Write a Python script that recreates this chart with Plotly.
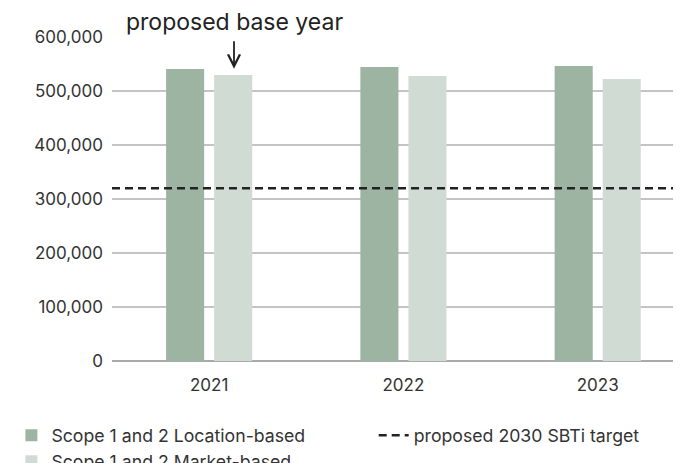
import plotly.graph_objects as go

years = ["2021", "2022", "2023"]
location_based = [540700, 544400, 546300]
market_based = [529600, 527800, 522200]
sbti_target = 320000
tick_vals = [0, 100000, 200000, 300000, 400000, 500000, 600000]
tick_text = ["0", "100,000", "200,000", "300,000", "400,000", "500,000", "600,000"]

FONT = "Inter"
xpos = list(range(len(years)))

fig = go.Figure()
fig.add_trace(go.Bar(
    x=xpos, y=location_based, name="Scope 1 and 2 Location-based",
    marker=dict(color="#9db4a3", line=dict(width=0)),
    width=0.196, offset=-0.2216, legend="legend",
))
fig.add_trace(go.Bar(
    x=xpos, y=market_based, name="Scope 1 and 2 Market-based",
    marker=dict(color="#d0dcd3", line=dict(width=0)),
    width=0.196, offset=0.0258, legend="legend",
))
fig.add_trace(go.Scatter(
    x=[-0.5, 2.5], y=[sbti_target, sbti_target], mode="lines",
    name="proposed 2030 SBTi target",
    line=dict(color="#222222", width=2.5, dash="8px,5px"), legend="legend2",
))

fig.add_annotation(
    x=0.128, y=541000, xref="x", yref="y", text="",
    showarrow=True, arrowhead=5, arrowsize=1.3, arrowwidth=1.8, arrowcolor="#222222",
    ax=0, ay=-29,
)
fig.add_annotation(
    x=0.128, y=1, xref="x", yref="paper", yanchor="bottom", yshift=-1,
    text="proposed base year", showarrow=False,
    font=dict(family=FONT, size=23, color="#222222"),
)

legend_font = dict(family=FONT, size=17.7, color="#333333")
fig.update_layout(
    width=681, height=463,
    margin=dict(l=104, r=0, t=29, b=110, autoexpand=False),
    plot_bgcolor="white", paper_bgcolor="white",
    font=dict(family=FONT, size=17, color="#333333"),
    barmode="overlay",
    showlegend=True,
    legend=dict(
        orientation="v", xref="container", yref="container",
        x=0.005, y=0.116, xanchor="left", yanchor="top",
        font=legend_font, tracegroupgap=0, traceorder="normal",
    ),
    legend2=dict(
        orientation="v", xref="container", yref="container",
        x=0.537, y=0.116, xanchor="left", yanchor="top",
        font=legend_font,
    ),
    xaxis=dict(
        range=[-0.5, 2.47], tickvals=xpos, ticktext=years,
        showgrid=False, zeroline=False, showline=False, ticks="",
        ticklabelstandoff=12, tickangle=0, automargin=False,
    ),
    yaxis=dict(
        range=[0, 600000], tickvals=tick_vals, ticktext=tick_text,
        showgrid=True, gridcolor="#c4c4c4", gridwidth=1.5,
        zeroline=True, zerolinecolor="#aaaaaa", zerolinewidth=1.5,
        showline=False, ticks="", ticklabelstandoff=8, automargin=False,
    ),
)

fig.write_html("out.html")
